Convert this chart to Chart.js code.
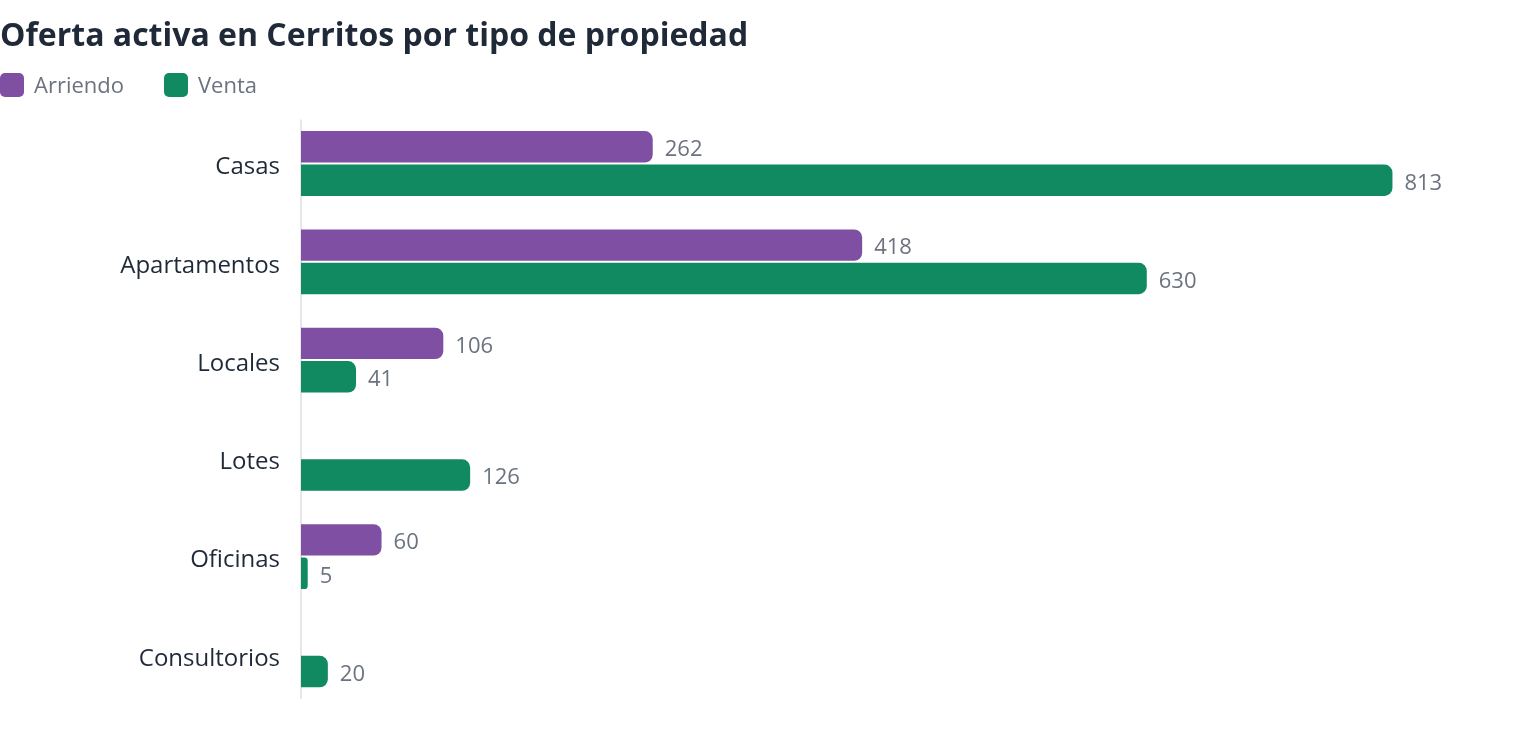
<!DOCTYPE html>
<html><head><meta charset="utf-8">
<script src="https://cdn.jsdelivr.net/npm/chart.js@4.4.1/dist/chart.umd.min.js"></script>
<style>html,body{margin:0;padding:0;background:#fff}#wrap{width:1520px;height:740px}</style>
</head><body><div id="wrap"><canvas id="c"></canvas></div>
<script>
const categories = ["Casas","Apartamentos","Locales","Lotes","Oficinas","Consultorios"];
const arriendo = [262, 418, 106, null, 60, null];
const venta = [813, 630, 41, 126, 5, 20];
const seriesNames = ["Arriendo","Venta"];
const colors = ["#7f4fa3","#118a62"];
const FONT = "'Open Sans', 'Noto Sans', sans-serif";

const valueLabels = {
  id:'valueLabels',
  afterDatasetsDraw(chart){
    const ctx = chart.ctx;
    ctx.save();
    ctx.font = "22px " + FONT;
    ctx.fillStyle = "#6b7280";
    ctx.textBaseline = "middle";
    ctx.textAlign = "left";
    chart.data.datasets.forEach((ds,i)=>{
      const meta = chart.getDatasetMeta(i);
      meta.data.forEach((bar,j)=>{
        const v = ds.data[j];
        if (v===null || v===undefined) return;
        ctx.fillText(String(v), bar.x + 12, bar.y + 3);
      });
    });
    ctx.restore();
  }
};

const axisLine = {
  id:'axisLine',
  beforeDatasetsDraw(chart){
    const a = chart.chartArea, ctx = chart.ctx;
    ctx.save();
    ctx.strokeStyle = "#e5e7eb";
    ctx.lineWidth = 2;
    ctx.beginPath();
    ctx.moveTo(a.left, a.top + 5);
    ctx.lineTo(a.left, a.bottom - 5);
    ctx.stroke();
    ctx.restore();
  }
};

const customLegend = {
  id:'customLegend',
  afterDraw(chart){
    const ctx = chart.ctx;
    ctx.save();
    ctx.font = "22px " + FONT;
    ctx.textBaseline = "middle";
    ctx.textAlign = "left";
    let x = 0;
    const y = 85;
    chart.data.datasets.forEach((ds)=>{
      ctx.fillStyle = ds.backgroundColor;
      ctx.beginPath();
      ctx.roundRect(x, y - 12, 24, 24, 5);
      ctx.fill();
      ctx.fillStyle = "#6b7280";
      ctx.fillText(ds.label, x + 34, y + 2);
      x += 34 + ctx.measureText(ds.label).width + 40;
    });
    ctx.restore();
  }
};

new Chart(document.getElementById('c'), {
  type:'bar',
  data:{
    labels: categories,
    datasets:[
      {label:seriesNames[0], data:arriendo, backgroundColor:colors[0], borderRadius:8, borderSkipped:'start', categoryPercentage:0.68, barPercentage:0.94},
      {label:seriesNames[1], data:venta, backgroundColor:colors[1], borderRadius:8, borderSkipped:'start', categoryPercentage:0.68, barPercentage:0.94}
    ]
  },
  options:{
    indexAxis:'y',
    responsive:true,
    maintainAspectRatio:false,
    animation:false,
    layout:{padding:{left:0,right:0,top:0,bottom:36}},
    plugins:{
      title:{display:true, text:"Oferta activa en Cerritos por tipo de propiedad", align:'start',
        color:"#1f2937", font:{family:FONT, size:32, weight:'bold', lineHeight:1.2}, padding:{top:18,bottom:58}},
      legend:{display:false},
      tooltip:{enabled:false}
    },
    scales:{
      x:{display:false, min:0, max:908},
      y:{grid:{display:false}, border:{display:false},
        ticks:{color:"#1f2937", font:{family:FONT, size:24}, padding:13, labelOffset:4},
        afterFit(scale){ scale.width = 301; }}
    }
  },
  plugins:[axisLine, valueLabels, customLegend]
});
</script></body></html>
